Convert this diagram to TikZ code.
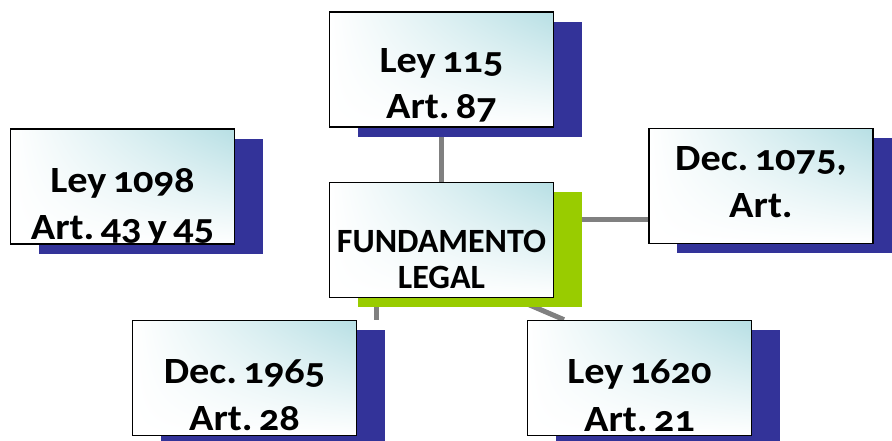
\documentclass[tikz,border=0pt]{standalone}
\usepackage{fontspec}
\setmainfont{Carlito}[Numbers=OldStyle]
\usetikzlibrary{calc,backgrounds,shadings}
\definecolor{shadowblue}{RGB}{51,51,153}
\definecolor{shadowgreen}{RGB}{153,204,0}
\definecolor{conngray}{RGB}{128,128,128}
\definecolor{tealtint}{RGB}{183,223,228}
\tikzset{
  frontbox/.style={draw=black, line width=1.6pt, minimum width=224pt, minimum height=115pt, inner sep=0pt,
    upper left=white, upper right=tealtint, lower left=white, lower right=white},
  shadowbox/.style={minimum width=224pt, minimum height=115pt, inner sep=0pt, fill=#1},
  conn/.style={draw=conngray, line width=5pt},
  lbl/.style={font=\fontsize{37}{44}\selectfont\bfseries\addfontfeature{FakeStretch=1.09}, anchor=base, inner sep=0pt,
    execute at begin node={\frenchspacing\spaceskip=0.17em\relax}},
  lblc/.style={font=\fontsize{34}{40}\selectfont\bfseries, anchor=base, inner sep=0pt},
}
% #1 name, #2 cx, #3 cy, #4 shadow colour, #5 label style, #6 dy1, #7 line1, #8 dy2, #9 line2
\newcommand\mkbox[9]{%
  \node[shadowbox=#4] (#1s) at (#2+28,#3+9.5) {};
  \node[frontbox] (#1) at (#2,#3) {};
  \begin{scope}
    \clip ([xshift=1pt,yshift=1pt]#1.south west) rectangle ([xshift=-1pt,yshift=-1pt]#1.north east);
    \node[#5] (#1a) at ($(#1.center)+(0,#6)$) {#7};
    \node[#5] (#1b) at ($(#1.center)+(0,#8)$) {#9};
  \end{scope}
}
\begin{document}
\begin{tikzpicture}[x=1pt,y=-1pt]
\useasboundingbox (0,0) rectangle (892,440);
\mkbox{T}{441.5}{69.5}{shadowblue}{lbl}{2.5}{Ley 115}{48.5}{Art. 87}
\mkbox{L}{122.5}{186.5}{shadowblue}{lbl}{5.5}{Ley 1098}{52.5}{Art. 43 y 45}
\mkbox{R}{761}{186}{shadowblue}{lbl}{-16}{Dec. 1075,}{31}{Art.}
\mkbox{BL}{244.5}{378}{shadowblue}{lbl}{5}{Dec. 1965}{52}{Art. 28}
\mkbox{BR}{639.5}{378}{shadowblue}{lbl}{5}{Ley 1620}{53}{Art. 21}
\mkbox{C}{441.5}{240}{shadowgreen}{lblc}{12}{FUNDAMENTO}{48}{LEGAL}
\begin{scope}[on background layer]
  \draw[conn] (T.south) -- (C.north);
  \draw[conn] ([yshift=21pt]C.east) -- ([yshift=-33pt]R.west);
  \draw[conn] ([xshift=-65.5pt]C.south) -- ([xshift=131.5pt]BL.north);
  \draw[conn] ([xshift=72.5pt]C.south) -- ([xshift=-75.5pt]BR.north);
\end{scope}
\end{tikzpicture}
\end{document}
